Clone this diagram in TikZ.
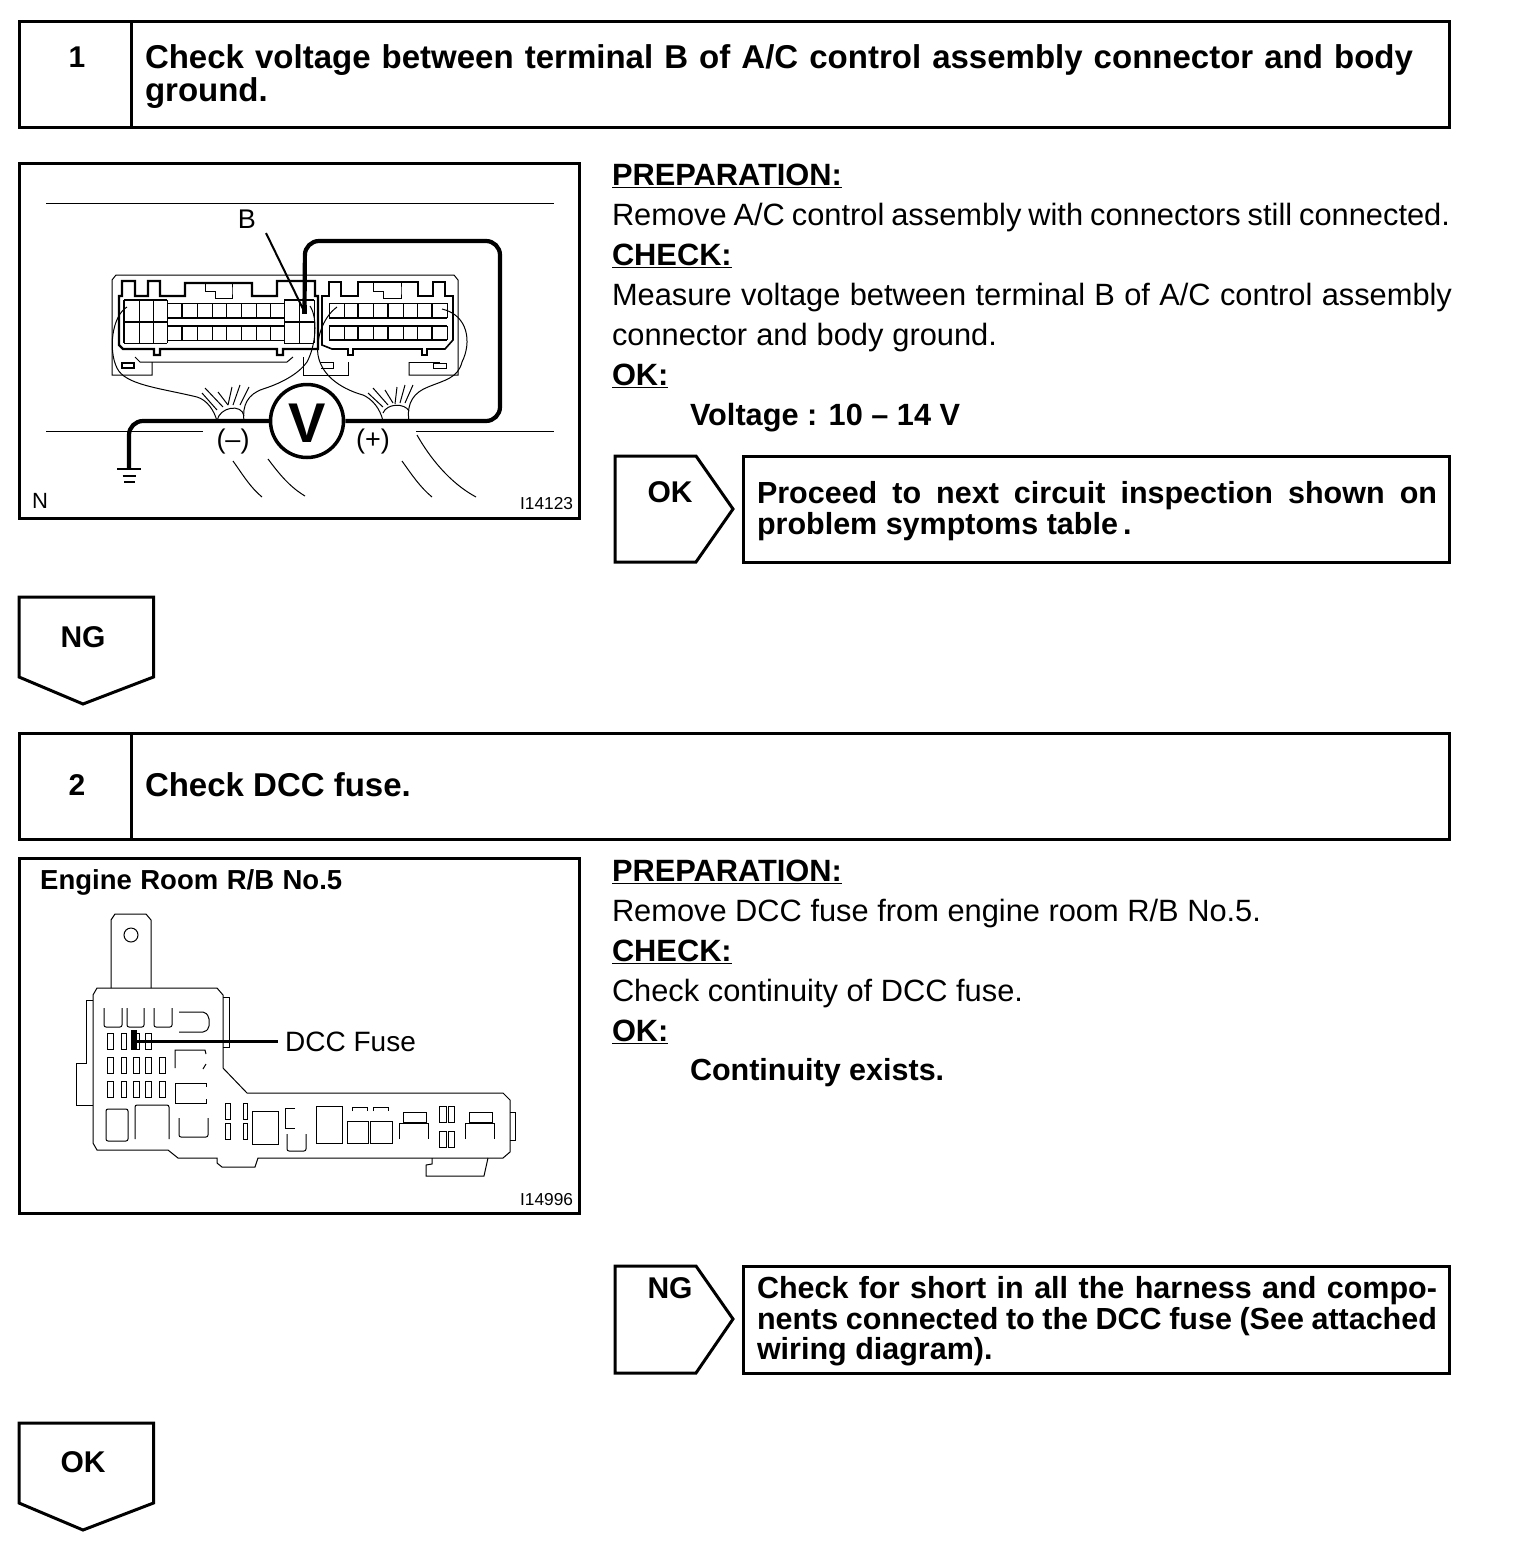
\documentclass[tikz,border=0pt]{standalone}
\usepackage{fontspec}
\setmainfont{Liberation Sans}
\newcommand{\fsz}[1]{\fontsize{#1}{#1}\selectfont}
\newcommand{\fitw}[2]{\makebox[#1pt][s]{#2}}
\tikzset{
  frame/.style={draw=black,line width=3pt,fill=white,line join=miter},
  thin/.style={draw=black,line width=1pt},
  med/.style={draw=black,line width=1.6pt},
  hvy/.style={draw=black,line width=2.4pt},
  wire/.style={draw=black,line width=4.2pt,rounded corners=14pt},
  lead/.style={draw=black,line width=2pt},
  txt/.style={anchor=base west,inner sep=0pt,outer sep=0pt,font=\fsz{30.8}},
  hdr/.style={anchor=base west,inner sep=0pt,outer sep=0pt,font=\fsz{33}\bfseries},
  box/.style={anchor=base west,inner sep=0pt,outer sep=0pt,font=\fsz{30.5}\bfseries},
  num/.style={anchor=center,inner sep=0pt,outer sep=0pt,font=\fsz{30}\bfseries},
  lab/.style={anchor=center,inner sep=0pt,outer sep=0pt,font=\fsz{27}},
  code/.style={anchor=base east,inner sep=0pt,outer sep=0pt,font=\fsz{17.3}},
}
\begin{document}
\begin{tikzpicture}[x=1pt,y=-1pt]
\useasboundingbox (0,0) rectangle (1520,1548);
\fill[white] (0,0) rectangle (1520,1548);
% ---------- step 1 header
\draw[frame] (19,21) rectangle (1449.5,127);
\draw[frame] (131,21) -- (131,127);
\node[num] (n1) at (77,57) {1};
\node[hdr] (h1a) at (145,68.5) {\fitw{1268}{Check voltage between terminal B of A/C control assembly connector and body}};
\node[hdr] (h1b) at (145,101.5) {ground.};
% ---------- picture 1
\draw[frame] (19,163) rectangle (579.5,518);
\draw[thin] (46,203) -- (554,203);
\draw[thin] (46,431) -- (203,431);
\draw[thin] (416,431) -- (554,431);
% left connector outline
\draw[thin] (152,362) -- (152,375) -- (112,375) -- (112,280) -- (116,275) -- (454,275) -- (458,280) -- (458,375) -- (409,375) -- (409,362);
\draw[thin] (135,357) -- (140,362) -- (287,362) -- (293,357);
\draw[thin] (303,357) -- (303,375) -- (348,375) -- (348,362);
\draw[thin] (320,362) -- (333,362) -- (333,368) -- (321,368);
\draw[thin] (433,363) rectangle (446,368);
\draw[thin] (409,362) -- (440,362);
\draw[med] (122,363) rectangle (134,368);
% thick profile
\draw[hvy] (119,296) -- (122,296) -- (122,281) -- (135,281) -- (135,296) -- (148,296) -- (148,281) -- (160,281) -- (160,296) -- (185,296) -- (185,283) -- (252,283) -- (252,296) -- (277,296) -- (277,281) -- (315,281) -- (315,296) -- (318,296) -- (318,349) -- (283,349) -- (283,355) -- (277,355) -- (277,349) -- (160,349) -- (160,355) -- (154,355) -- (154,349) -- (123,349) -- (119,345) -- cycle;
\draw[thin] (205,283) -- (205,291) -- (215,291) -- (215,298) -- (232,298) -- (232,291) -- (232,283);
\draw[thin] (212,291) -- (205,291);
% left block cells
\draw[med] (124,300) -- (167,300);
\draw[hvy] (124,300) -- (124,343);
\draw[hvy] (124,322) -- (167,322);
\draw[thin] (124,343) -- (167,343);
\foreach \x in {139,153,167} \draw[thin] (\x,300) -- (\x,343);
% middle cells
\draw[thin] (167,303) -- (284,303);
\draw[hvy] (167,318) -- (284,318);
\draw[hvy] (167,326) -- (284,326);
\draw[thin] (167,340) -- (284,340);
\foreach \x in {197,212,226,241,256,270} {\draw[thin] (\x,303) -- (\x,318); \draw[thin] (\x,326) -- (\x,340);}
\foreach \x in {182} {\draw[hvy] (\x,303) -- (\x,318); \draw[hvy] (\x,326) -- (\x,340);}
% right block cells of left connector
\draw[med] (284,300) -- (314,300);
\draw[hvy] (284,322) -- (314,322);
\draw[thin] (284,343) -- (314,343);
\foreach \x in {284,299,314} \draw[thin] (\x,300) -- (\x,343);
% right connector profile
\draw[med] (322,345) -- (322,296) -- (329,296) -- (329,282) -- (341,282) -- (341,296) -- (358,296) -- (358,282) -- (418,282) -- (418,296) -- (433,296) -- (433,282) -- (445,282) -- (445,296) -- (453,296) -- (453,340) -- (445,349) -- (427,349) -- (427,355) -- (422,355) -- (422,349) -- (353,349) -- (353,355) -- (348,355) -- (348,349) -- (332,349) -- cycle;
\draw[thin] (373,282) -- (373,291) -- (383,291) -- (383,298) -- (401,298) -- (401,291) -- (401,282);
\draw[thin] (383,291) -- (373,291);
\draw[thin] (329,303) -- (447,303);
\draw[hvy] (329,318) -- (447,318);
\draw[hvy] (329,326) -- (447,326);
\draw[hvy] (329,340) -- (447,340);
\foreach \x in {329,344,373,403,417,447} {\draw[thin] (\x,303) -- (\x,318); \draw[thin] (\x,326) -- (\x,340);}
\foreach \x in {358,388,432} {\draw[med] (\x,303) -- (\x,318); \draw[med] (\x,326) -- (\x,340);}
% harness wires
\draw[thin] (127,307) .. controls (112,316) and (108,350) .. (117,368) .. controls (125,385) and (160,388) .. (197,397) .. controls (207,400) and (214,410) .. (217,421);
\draw[thin] (244,421) .. controls (242,405) and (248,394) .. (263,389) .. controls (285,382) and (300,372) .. (307,362) .. controls (316,345) and (318,318) .. (310,306);
\draw[thin] (217,421) .. controls (219,407) and (242,403) .. (244,416);
\foreach \a/\b/\c/\d in {202/393/217/410,205/388/223/407,218/392/228/405,232/387/228/405,240/385/233/405,249/387/240/405} \draw[thin] (\a,\b) -- (\c,\d);
\draw[thin] (337,307) .. controls (322,318) and (316,340) .. (318,355) .. controls (322,378) and (345,390) .. (363,395) .. controls (372,399) and (380,408) .. (383,421);
\draw[thin] (409,421) .. controls (406,402) and (415,392) .. (428,387) .. controls (445,380) and (458,378) .. (462,362) .. controls (472,342) and (468,315) .. (442,309);
\draw[thin] (383,413) .. controls (387,403) and (405,403) .. (409,411);
\foreach \a/\b/\c/\d in {368/393/383/407,373/388/388/405,385/390/393/403,397/387/395/404,405/385/400/403,413/385/405/403} \draw[thin] (\a,\b) -- (\c,\d);
% loose bottom curves
\draw[thin] (233,461) .. controls (243,475) and (250,487) .. (262,497);
\draw[thin] (268,459) .. controls (280,475) and (290,487) .. (305,496);
\draw[thin] (402,461) .. controls (412,475) and (420,487) .. (432,497);
\draw[thin] (417,435) .. controls (430,458) and (450,483) .. (476,497);
% meter
\node[circle,draw=black,line width=3.5pt,minimum size=73pt,inner sep=0pt,fill=none] (vm) at (307,421) {};
\node[anchor=center,inner sep=0pt,font=\fsz{56}\bfseries] (vt) at (307,423) {V};
\coordinate (gnd) at (129,469);
\coordinate (term) at (304.5,312);
\draw[wire] (gnd) |- (vm.west);
\draw[wire] (vm.east) -- (500,421) -- (500,241) -- (305,241) -- (term);
\fill[black] (302,305) rectangle (307,314);
\draw[hvy] (117,469) -- (141,469);
\draw[med] (122.5,476) -- (136,476);
\draw[med] (124,482) -- (135,482);
\coordinate (bl) at (266,233);
\draw[lead] (bl) -- (term);
\node[lab] (lb) at (247,219) {B};
\node[lab] (lm) at (233,442) {(–)};
\node[lab] (lp) at (373,442) {(+)};
\node[anchor=center,inner sep=0pt,font=\fsz{22}] (ln) at (40,501) {N};
\node[code] (c1) at (573,509) {I14123};
% ---------- text 1
\node[txt] (t1) at (612,185) {\textbf{\underline{PREPARATION:}}};
\node[txt] (t2) at (612,225) {\fitw{838}{Remove A/C control assembly with connectors still connected.}};
\node[txt] (t3) at (612,265) {\textbf{\underline{CHECK:}}};
\node[txt] (t4) at (612,305) {\fitw{840}{Measure voltage between terminal B of A/C control assembly}};
\node[txt] (t5) at (612,345) {\fitw{385}{connector and body ground.}};
\node[txt] (t6) at (612,385) {\textbf{\underline{OK:}}};
\node[txt,font=\fsz{30.7}\bfseries] (t7) at (690,425) {Voltage : 10 – 14 V};
% OK arrow + box
\draw[frame] (615,456) -- (696,456) -- (733,509) -- (696,562) -- (615,562) -- cycle;
\node[num] (a1) at (670,492) {OK};
\draw[frame] (743,456) rectangle (1449.5,562);
\node[box] (b1) at (757,503) {\fitw{680}{Proceed to next circuit inspection shown on}};
\node[box] (b2) at (757,534) {problem symptoms table\,.};
% NG down
\draw[frame] (19,597) -- (153.5,597) -- (153.5,677) -- (83,704) -- (19,677) -- cycle;
\node[num] (a2) at (83,637) {NG};
% ---------- step 2 header
\draw[frame] (19,733) rectangle (1449.5,839);
\draw[frame] (131,733) -- (131,839);
\node[num] (n2) at (77,785) {2};
\node[hdr] (h2) at (145,796.5) {Check DCC fuse.};
% ---------- picture 2
\draw[frame] (19,858) rectangle (579.5,1213);
\node[anchor=base west,inner sep=0pt,font=\fsz{27.5}\bfseries] (er) at (40,889) {\fitw{302}{Engine Room R/B No.5}};
% fuse box outline
\draw[thin] (111,988) -- (111,920) -- (115,914) -- (146,914) -- (151,920) -- (151,988);
\draw[thin] (131,935) circle (7pt);
\draw[thin] (93,995) -- (97,988) -- (217,988) -- (223,995) -- (223,1068) -- (247,1093) -- (503,1093) -- (510,1100) -- (510,1152) -- (503,1158) -- (258,1158) -- (255,1167) -- (222,1167) -- (217,1163) -- (217,1158) -- (178,1158) -- (168,1150) -- (97,1150) -- (93,1143) -- cycle;
\draw[thin] (432,1158) -- (432,1164) -- (426,1165) -- (426,1176) -- (484,1176) -- (488,1158);
\draw[thin] (510,1112) -- (515,1112) -- (515,1140) -- (510,1140);
\draw[thin] (93,1000) -- (86,1000) -- (86,1063) -- (76,1063) -- (76,1105) -- (93,1105);
\draw[thin] (223,997) -- (229,997) -- (229,1047) -- (223,1047);
% relays
\foreach \a/\b in {104/122,127/144,154/172} \draw[thin,rounded corners=2pt] (\a,1008) -- (\a,1027) -- (\b,1027) -- (\b,1008);
\draw[thin,rounded corners=2pt] (179,1012) -- (205,1012) -- (209,1017) -- (209,1028) -- (205,1032) -- (179,1032);
\foreach \a/\b in {107/113,121/126,135/139,145/151} \draw[thin] (\a,1033) rectangle (\b,1049);
\foreach \a/\b in {107/113,121/126,133/139,145/151,159/165} {\draw[thin] (\a,1057) rectangle (\b,1073); \draw[thin] (\a,1081) rectangle (\b,1097);}
\draw[thin] (175,1068) -- (175,1050) -- (205,1050) -- (206,1054);
\draw[thin] (206,1064) -- (203,1069);
\draw[thin] (206,1087) -- (206,1083) -- (175,1083) -- (175,1103) -- (206,1103) -- (206,1099);
\draw[thin,rounded corners=2pt] (106,1109) rectangle (128,1141);
\draw[thin,rounded corners=2pt] (135,1139) -- (135,1105) -- (169,1105) -- (169,1139);
\draw[thin,rounded corners=2pt] (179,1118) -- (179,1137) -- (208,1137) -- (208,1118);
\foreach \a/\b in {225/230,243/247} {\draw[thin] (\a,1103) rectangle (\b,1119); \draw[thin] (\a,1123) rectangle (\b,1139);}
\draw[thin] (252,1111) rectangle (278,1144);
\draw[thin] (295,1108) -- (285,1108) -- (285,1128) -- (295,1128);
\draw[thin,rounded corners=2pt] (287,1134) -- (287,1151) -- (306,1151) -- (306,1134);
\draw[thin] (316,1106) rectangle (342,1143);
\draw[thin] (347,1121) rectangle (368,1143);
\draw[thin] (370,1121) rectangle (392,1143);
\draw[thin] (352,1111) -- (352,1107) -- (367,1107) -- (367,1111);
\draw[thin] (373,1111) -- (373,1107) -- (388,1107) -- (388,1111);
\foreach \o in {0,66} {
  \draw[thin] (403+\o,1112) rectangle (426+\o,1122);
  \draw[med] (403+\o,1123) -- (426+\o,1123);
  \draw[thin] (399+\o,1139) -- (399+\o,1123) -- (428+\o,1123) -- (428+\o,1139);
}
\foreach \a/\b in {439/446,448/454} {\draw[thin] (\a,1106) rectangle (\b,1122); \draw[thin] (\a,1131) rectangle (\b,1147);}
% DCC fuse pointer
\fill[black] (131,1030) rectangle (137,1050);
\coordinate (fz) at (137,1041);
\node[anchor=base west,inner sep=0pt,font=\fsz{28}] (dcc) at (285,1051) {DCC Fuse};
\draw[draw=black,line width=3pt] (fz) -- (278,1041);
\node[code] (c2) at (573,1205) {I14996};
% ---------- text 2
\node[txt] (u1) at (612,881) {\textbf{\underline{PREPARATION:}}};
\node[txt] (u2) at (612,921) {\fitw{649}{Remove DCC fuse from engine room R/B No.5.}};
\node[txt] (u3) at (612,961) {\textbf{\underline{CHECK:}}};
\node[txt] (u4) at (612,1001) {\fitw{411}{Check continuity of DCC fuse.}};
\node[txt] (u5) at (612,1041) {\textbf{\underline{OK:}}};
\node[txt,font=\fsz{30.5}\bfseries] (u6) at (690,1080.5) {Continuity exists.};
% NG arrow + box
\draw[frame] (615,1266) -- (696,1266) -- (733,1319) -- (696,1373) -- (615,1373) -- cycle;
\node[num] (a3) at (670,1288) {NG};
\draw[frame] (743,1266) rectangle (1449.5,1373);
\node[box] (b3) at (757,1298) {\fitw{680}{Check for short in all the harness and compo-}};
\node[box] (b4) at (757,1329) {\fitw{680}{nents connected to the DCC fuse (See attached}};
\node[box] (b5) at (757,1359) {wiring diagram).};
% OK down
\draw[frame] (19,1423) -- (153.5,1423) -- (153.5,1503) -- (83,1530) -- (19,1503) -- cycle;
\node[num] (a4) at (83,1462) {OK};
\end{tikzpicture}
\end{document}
